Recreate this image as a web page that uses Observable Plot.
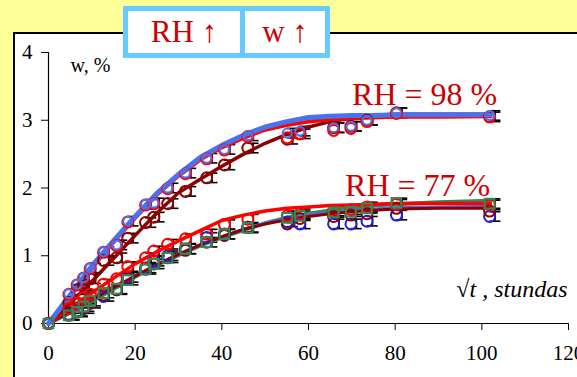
<!DOCTYPE html>
<html>
<head>
<meta charset="utf-8">
<script src="https://cdn.jsdelivr.net/npm/d3@7"></script>
<script src="https://cdn.jsdelivr.net/npm/@observablehq/plot@0.6"></script>
<style>
  html, body { margin: 0; padding: 0; }
  body { width: 577px; height: 377px; background: #FFFF99; position: relative; overflow: hidden; font-family: "Liberation Serif", serif; }
  #panel { position: absolute; left: 13px; top: 32px; right: 0; bottom: 0; background: #fff; border-left: 2px solid #000; border-top: 2px solid #000; }
  #chart { position: absolute; left: 0; top: 0; }
  #chart svg, #chart svg text { font-family: "Liberation Serif", serif !important; }
  #legend { position: absolute; left: 123px; top: 6px; width: 197px; height: 42px; border: 5px solid #66CCFF; background: #fff; display: flex; }
  #legend div { display: flex; align-items: center; justify-content: center; color: #CC0000; font-size: 31px; font-family: "Liberation Serif", serif; }
  #legend .c1 { width: 112px; border-right: 5px solid #66CCFF; }
  #legend .c2 { flex: 1; }
</style>
</head>
<body>
<div id="panel"></div>
<div id="chart"></div>
<div id="legend"><div class="c1" id="lg1"></div><div class="c2" id="lg2"></div></div>
<script>
// ---- data ----
const legendLabels = ["RH \u2191", "w \u2191"];
const xTicks = [0, 20, 40, 60, 80, 100, 120];
const yTicks = [0, 1, 2, 3, 4];
const yTitle = "w, %";
const xTitle = "\u221At , stundas";
const annotations = ["RH = 98 %", "RH = 77 %"];
const annotX = [86.8, 85.2];
const annotY = [3.38, 2.04];

// measurement points (sqrt t, hours^0.5)
const ptX = [0, 4.7, 6.6, 8.1, 9.6, 12.7, 15.7, 18.3, 22.4, 24.3, 27.5, 31.6, 36.5, 40.6, 46.0, 55.1, 58.0, 65.8, 69.8, 73.5, 80.3, 101.8];
const p98Red    = [0, 0.43, 0.57, 0.67, 0.81, 1.05, 1.15, 1.50, 1.75, 1.77, 1.99, 2.21, 2.43, 2.56, 2.76, 2.74, 2.80, 2.85, 2.88, 2.98, 3.10, 3.05];
const p98Blue   = [0, 0.44, 0.58, 0.68, 0.82, 1.06, 1.16, 1.51, 1.76, 1.78, 2.00, 2.22, 2.44, 2.57, 2.77, 2.81, 2.84, 2.89, 2.91, 3.00, 3.11, 3.07];
const p98Maroon = [0, 0.31, 0.50, 0.55, 0.66, 0.93, 0.97, 1.26, 1.49, 1.57, 1.77, 1.95, 2.15, 2.34, 2.59, 2.72, 2.80, 2.89, 2.91, 3.00, 3.11, 3.05];
const p77Red    = [0, 0.22, 0.30, 0.38, 0.43, 0.58, 0.66, 0.84, 0.97, 1.07, 1.17, 1.25, 1.32, 1.46, 1.54, 1.59, 1.62, 1.66, 1.68, 1.72, 1.76, 1.75];
const p77Blue   = [0, 0.13, 0.18, 0.22, 0.30, 0.40, 0.50, 0.68, 0.82, 0.92, 1.00, 1.10, 1.27, 1.32, 1.42, 1.50, 1.47, 1.47, 1.47, 1.51, 1.60, 1.58];
const p77Maroon = [0, 0.12, 0.17, 0.23, 0.30, 0.42, 0.50, 0.66, 0.80, 0.88, 0.97, 1.08, 1.20, 1.30, 1.42, 1.47, 1.55, 1.58, 1.60, 1.62, 1.70, 1.66];
const p77Green  = [0, 0.12, 0.17, 0.25, 0.33, 0.45, 0.51, 0.64, 0.80, 0.88, 0.97, 1.10, 1.20, 1.32, 1.41, 1.56, 1.59, 1.64, 1.65, 1.70, 1.78, 1.77];
const errHalf = 0.07;

// model curves
const cX = [0, 5, 10, 15, 20, 25, 30, 35, 40, 45, 50, 55, 60, 65, 70, 75, 80, 90, 102];
const c98Blue   = [0, 0.42, 0.85, 1.22, 1.58, 1.92, 2.20, 2.45, 2.63, 2.78, 2.90, 2.98, 3.04, 3.06, 3.07, 3.07, 3.08, 3.08, 3.08];
const c98Red    = [0, 0.40, 0.82, 1.20, 1.56, 1.90, 2.18, 2.42, 2.60, 2.74, 2.86, 2.93, 2.98, 3.01, 3.03, 3.04, 3.05, 3.05, 3.06];
const c98Maroon = [0, 0.30, 0.62, 0.96, 1.30, 1.63, 1.93, 2.13, 2.32, 2.50, 2.66, 2.79, 2.90, 2.98, 3.03, 3.07, 3.09, 3.09, 3.09];
const c77Red    = [0, 0.23, 0.45, 0.67, 0.88, 1.06, 1.22, 1.37, 1.52, 1.60, 1.66, 1.70, 1.72, 1.74, 1.75, 1.76, 1.77, 1.77, 1.77];
const c77Blue   = [0, 0.17, 0.35, 0.53, 0.70, 0.87, 1.02, 1.16, 1.28, 1.39, 1.48, 1.55, 1.60, 1.64, 1.67, 1.69, 1.71, 1.72, 1.73];
const c77Maroon = [0, 0.17, 0.35, 0.53, 0.70, 0.87, 1.02, 1.16, 1.28, 1.39, 1.47, 1.53, 1.58, 1.62, 1.65, 1.67, 1.69, 1.70, 1.70];
const c77Green  = [0, 0.16, 0.33, 0.51, 0.69, 0.86, 1.01, 1.15, 1.27, 1.38, 1.48, 1.56, 1.62, 1.67, 1.71, 1.74, 1.76, 1.79, 1.81];

// ---- tables ----
const rows = (xs, ys) => xs.map((x, i) => ({x, y: ys[i]}));
const pts = {
  r98: rows(ptX, p98Red), b98: rows(ptX, p98Blue), m98: rows(ptX, p98Maroon),
  r77: rows(ptX, p77Red), b77: rows(ptX, p77Blue), m77: rows(ptX, p77Maroon), g77: rows(ptX, p77Green)
};
const allPts = [].concat(pts.m98, pts.b98, pts.r77, pts.b77, pts.g77).filter(d => d.x > 0);
const annot = annotations.map((t, i) => ({t, x: annotX[i], y: annotY[i]}));

const FF = "Liberation Serif, serif";
const C = {blue: "#4A72EE", red: "#FF0000", maroon: "#8B0000", green: "#2E8B57", blue2: "#1E1EE6"};
const line = (xs, ys, stroke, w) => Plot.line(rows(xs, ys), {x: "x", y: "y", stroke, strokeWidth: w, curve: "linear"});
const dots = (data, stroke, r = 5.5, sym = "circle") => Plot.dot(data, {x: "x", y: "y", r, stroke, strokeWidth: 2, fill: "none", symbol: sym});

const chart = Plot.plot({
  width: 577, height: 377,
  marginLeft: 48, marginRight: 9, marginTop: 52, marginBottom: 54,
  x: {domain: [0, 120]},
  y: {domain: [0, 4]},
  style: {background: "transparent", fontFamily: FF, color: "#000"},
  marks: [
    Plot.axisY({ticks: yTicks, tickFormat: d3.format("d"), tickSize: 7, tickPadding: 9, fontSize: 21, fontFamily: FF, label: null}),
    Plot.axisX({ticks: xTicks, tickFormat: d3.format("d"), tickSize: 7, tickPadding: 15, fontSize: 21, fontFamily: FF, label: null}),
    Plot.ruleX([0], {y1: 0, y2: 4, stroke: "#000", strokeWidth: 1.2}),
    Plot.ruleY([0], {x1: 0, x2: 120, stroke: "#000", strokeWidth: 1.2}),
    // error bars
    Plot.ruleX(allPts, {x: d => d.x + 1.3, y1: d => d.y - errHalf, y2: d => d.y + errHalf, stroke: "#000", strokeWidth: 1.3}),
    Plot.ruleY(allPts, {y: d => d.y - errHalf, x1: d => d.x, x2: d => d.x + 2.6, stroke: "#000", strokeWidth: 1.6}),
    Plot.ruleY(allPts, {y: d => d.y + errHalf, x1: d => d.x, x2: d => d.x + 2.6, stroke: "#000", strokeWidth: 1.6}),
    // curves 77
    line(cX, c77Green, C.green, 4),
    line(cX, c77Blue, C.blue, 3),
    line(cX, c77Maroon, C.maroon, 3),
    line(cX, c77Red, C.red, 3.5),
    // curves 98
    line(cX, c98Maroon, C.maroon, 3.5),
    line(cX, c98Red, C.red, 4),
    line(cX, c98Blue, C.blue, 5),
    // points
    dots(pts.m98, C.maroon),
    dots(pts.r98, C.red),
    dots(pts.b98, C.blue, 4.5),
    dots(pts.b77, C.blue2),
    dots(pts.m77, C.maroon),
    dots(pts.r77, C.red),
    dots(pts.g77, C.green, 5.5, "square"),
    // texts
    Plot.text(annot, {x: "x", y: "y", text: "t", fill: "#CC0000", fontSize: 32, fontFamily: FF}),
    Plot.text([yTitle], {frameAnchor: "top-left", dx: 22, dy: 5, text: d => d, fontSize: 20, fontFamily: FF, textAnchor: "start", fill: "#000"}),
    Plot.text([xTitle], {frameAnchor: "bottom-right", dx: -1, dy: -27, text: d => d, fontSize: 24, fontFamily: FF, fontStyle: "italic", textAnchor: "end", fill: "#000"})
  ]
});
document.getElementById("chart").appendChild(chart);
document.getElementById("lg1").textContent = legendLabels[0];
document.getElementById("lg2").textContent = legendLabels[1];
</script>
</body>
</html>
